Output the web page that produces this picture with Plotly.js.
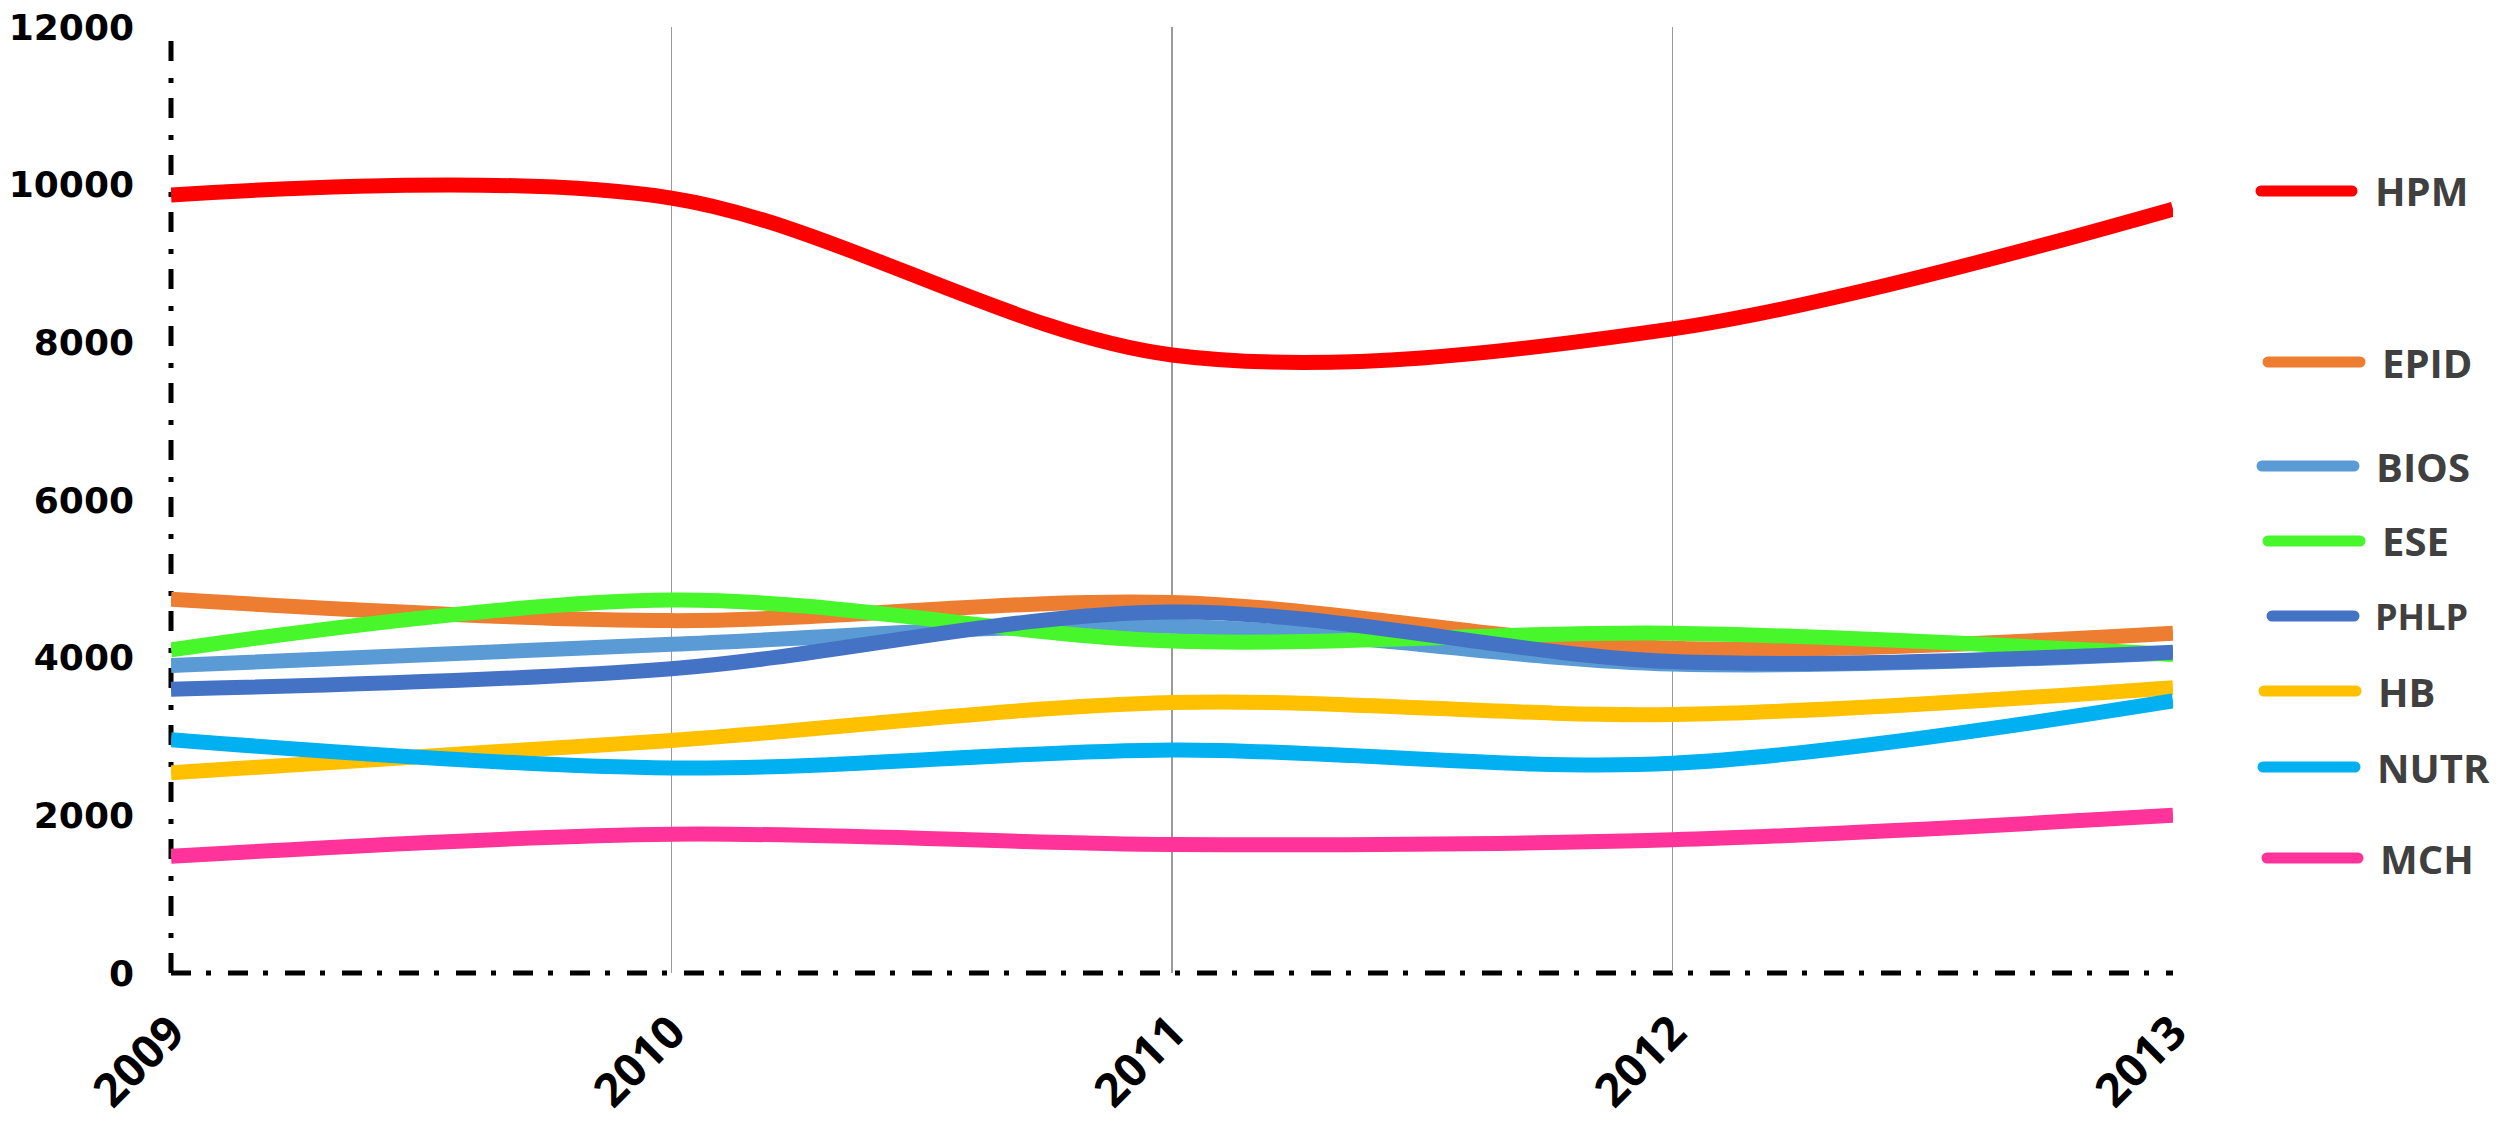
<!DOCTYPE html>
<html>
<head>
<meta charset="utf-8">
<script src="https://cdn.plot.ly/plotly-3.0.1.min.js"></script>
<style>
html, body { margin: 0; padding: 0; background: #fff; }
#chart { width: 2506px; height: 1123px; }
</style>
</head>
<body>
<div id="chart"></div>
<script>
// ---- data ----
const years = [2009, 2010, 2011, 2012, 2013];
const yearLabels = ["2009", "2010", "2011", "2012", "2013"];
const seriesNames = ["HPM", "EPID", "BIOS", "ESE", "PHLP", "HB", "NUTR", "MCH"];
const HPM  = [9870, 9830, 7840, 8170, 9690];
const EPID = [4740, 4470, 4700, 4120, 4310];
const BIOS = [3900, 4170, 4400, 3920, 4060];
const ESE  = [4100, 4730, 4210, 4310, 4040];
const PHLP = [3600, 3860, 4580, 3950, 4070];
const HB   = [2540, 2950, 3430, 3280, 3620];
const NUTR = [2960, 2600, 2830, 2660, 3450];
const MCH  = [1480, 1760, 1630, 1690, 2000];
const yTicks = [0, 2000, 4000, 6000, 8000, 10000, 12000];

// ---- style ----
const seriesValues = [HPM, EPID, BIOS, ESE, PHLP, HB, NUTR, MCH];
const colors = ["#FF0000", "#ED7D31", "#5B9BD5", "#47F72B", "#4472C4", "#FFC000", "#00B0F0", "#FF3399"];

const W = 2506, H = 1123;
const L = 171, R = 2173, T = 27, B = 973;
const px = x => (x - L) / (R - L);
const py = y => (B - y) / (B - T);

// legend item positions (pixels): line start, line end, text start, y, font size
const legendPos = [
  [2256, 2357, 2373, 191, 40],
  [2263, 2365, 2380, 362, 40],
  [2257, 2359, 2374, 466, 40],
  [2263, 2365, 2380, 541, 40],
  [2267, 2359, 2373, 616, 36],
  [2259, 2361, 2376, 691, 40],
  [2258, 2360, 2375, 767, 40],
  [2262, 2363, 2378, 858, 40]
];

const traces = seriesNames.map((name, i) => ({
  type: "scatter",
  mode: "lines",
  name: name,
  x: years,
  y: seriesValues[i],
  line: { color: colors[i], width: 15, shape: "spline", smoothing: 0.95 },
  showlegend: false,
  hoverinfo: "x+y+name"
}));

const shapes = [
  { type: "line", xref: "paper", yref: "paper", x0: 0, x1: 1, y0: 0, y1: 0,
    line: { color: "#000", width: 5, dash: "20px,15px,5px,17px" }, layer: "between" },
  { type: "line", xref: "paper", yref: "paper", x0: 0, x1: 0, y0: 0, y1: 1,
    line: { color: "#000", width: 5, dash: "20px,15px,5px,17px" }, layer: "between" }
];
const annotations = [];
seriesNames.forEach((name, i) => {
  const p = legendPos[i];
  shapes.push({ type: "line", xref: "paper", yref: "paper",
    x0: px(p[0] + 5), x1: px(p[1] - 5), y0: py(p[3]), y1: py(p[3]),
    line: { color: colors[i], width: 11 }, layer: "above" });
  annotations.push({ xref: "paper", yref: "paper", x: px(p[2]), y: py(p[3]),
    xanchor: "left", yanchor: "middle", showarrow: false, text: name,
    font: { family: "Open Sans", size: p[4], color: "#404040", weight: 700 } });
});

const layout = {
  width: W, height: H,
  margin: { l: L, r: W - R, t: T, b: H - B, pad: 0 },
  paper_bgcolor: "#fff", plot_bgcolor: "#fff",
  showlegend: false,
  xaxis: {
    range: [2009, 2013], tickvals: years, ticktext: yearLabels,
    tickangle: -45, ticks: "", showline: false, zeroline: false,
    showgrid: true, gridcolor: "#9a9a9a", gridwidth: 1.5,
    tickfont: { family: "Open Sans", size: 46, color: "#000", weight: 700 },
    ticklabelstandoff: 22, fixedrange: true
  },
  yaxis: {
    range: [0, 12000], tickvals: yTicks, ticktext: yTicks.map(String),
    ticks: "", showline: false, zeroline: false, showgrid: false,
    tickfont: { family: "DejaVu Sans", size: 36, color: "#000", weight: 700 },
    ticklabelstandoff: 36, fixedrange: true
  },
  shapes: shapes,
  annotations: annotations
};

Plotly.newPlot("chart", traces, layout, { displayModeBar: false, staticPlot: true }).then(() => {
  document.querySelectorAll(".layer-above .shapelayer path").forEach(p => {
    p.style.strokeLinecap = "round";
  });
});
</script>
</body>
</html>
